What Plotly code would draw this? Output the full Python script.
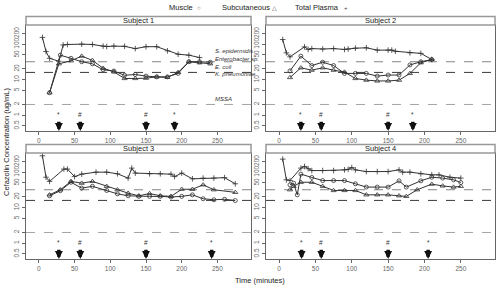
import math
import plotly.graph_objects as go

# ---------------- data ----------------
subjects = ["Subject 1", "Subject 2", "Subject 3", "Subject 4"]

# Subject 1
s1_plasma_t = [5, 10, 15, 28, 34, 40, 60, 75, 90, 95, 105, 120, 135, 150, 165, 180, 195, 210, 225]
s1_plasma_v = [155, 62, 40, 33, 95, 98, 100, 98, 88, 86, 88, 87, 75, 85, 85, 65, 52, 49, 42]
s1_muscle_t = [15, 30, 45, 60, 75, 90, 105, 120, 135, 150, 165, 180, 195, 210, 225, 240]
s1_muscle_v = [4.3, 49, 40, 32, 28, 19, 17.5, 13.3, 14, 12.6, 12, 12, 15, 32, 32, 31]
s1_subq_t = [15, 28, 45, 60, 75, 90, 105, 120, 135, 150, 165, 180, 195, 210, 225, 240]
s1_subq_v = [4.3, 28, 34, 46, 35, 21, 16.6, 10.8, 10.8, 11, 12, 11.6, 16, 32, 30, 28]

# Subject 2
s2_plasma_t = [5, 10, 15, 35, 40, 45, 60, 75, 90, 95, 105, 120, 135, 150, 155, 160, 180, 195, 210]
s2_plasma_v = [135, 57, 44, 84, 71, 75, 73, 75, 71, 73, 77, 79, 68, 68, 68, 63, 57, 55, 37]
s2_muscle_t = [15, 30, 45, 60, 75, 90, 105, 120, 135, 150, 165, 180, 195, 210]
s2_muscle_v = [17.7, 46, 25, 31, 25, 15, 15, 15, 12.6, 13.5, 13.5, 26, 32, 37]
s2_subq_t = [15, 30, 45, 60, 75, 90, 105, 120, 135, 150, 165, 180, 195, 210]
s2_subq_v = [11.5, 21.6, 18.5, 21.6, 18.5, 16.4, 10.8, 9.7, 9.2, 9.2, 9.7, 15, 30, 37]

# Subject 3
s3_plasma_t = [5, 10, 15, 35, 40, 50, 60, 80, 95, 110, 125, 130, 135, 155, 170, 185, 190, 200, 215, 230, 245, 260, 275]
s3_plasma_v = [289, 72, 55, 122, 122, 75, 88, 100, 100, 90, 68, 130, 94, 90, 90, 88, 75, 94, 65, 68, 68, 70, 47]
s3_muscle_t = [15, 30, 45, 60, 75, 95, 110, 125, 140, 155, 170, 185, 200, 215, 230, 245, 260, 275]
s3_muscle_v = [21.6, 30, 52, 35.5, 40, 30.5, 24.5, 21.6, 20.8, 20.8, 20.8, 20, 20.8, 23, 17.8, 16.7, 17.2, 15.9]
s3_subq_t = [15, 30, 45, 60, 75, 95, 110, 125, 140, 155, 170, 185, 200, 215, 230, 245, 275]
s3_subq_v = [23, 32, 55, 49, 55, 40, 32, 25.6, 21.6, 25, 21.6, 20.8, 33, 33, 44, 32, 27]

# Subject 4
s4_plasma_t = [5, 10, 15, 30, 35, 40, 45, 60, 75, 90, 95, 100, 105, 120, 135, 150, 165, 170, 180, 195, 210, 220, 235, 250]
s4_plasma_v = [233, 61, 58, 130, 145, 125, 111, 111, 111, 116, 120, 135, 116, 104, 104, 104, 116, 100, 100, 90, 84, 84, 72, 68]
s4_muscle_t = [15, 20, 25, 30, 45, 60, 75, 90, 105, 120, 135, 150, 165, 175, 195, 210, 225, 240, 250]
s4_muscle_v = [44, 49, 23, 88, 71, 58, 58, 58, 47, 38, 38, 38, 57, 38, 57, 72, 68, 61, 51]
s4_subq_t = [15, 20, 30, 45, 60, 75, 90, 105, 120, 135, 150, 165, 175, 190, 210, 225, 240, 250]
s4_subq_v = [32, 40, 52, 52, 40, 30.5, 30.5, 30.5, 23, 23, 23, 21.6, 20.8, 32, 46, 41, 38, 40]

# dosing arrows (minutes) and their marks
dose_t = [[28, 58, 150, 190], [30, 58, 150, 184], [28, 58, 150, 242], [31, 58, 150, 205]]
dose_mark = [["*", "#", "#", "*"], ["*", "#", "#", "*"], ["*", "#", "#", "*"], ["*", "#", "#", "*"]]

# breakpoints (ug/mL)
bp_values = [32, 16, 2]
bp_labels = ["S. epidermidis", "Enterobacter sp.", "E. coli", "K. pneumoniae", "MSSA"]
bp_label_y = [63, 38, 22.5, 14.3, 2.8]

y_ticks = [0.5, 1, 2, 5, 10, 20, 50, 100, 200]
x_ticks = [0, 50, 100, 150, 200, 250]
X_RANGE = [-18, 297]

series = [
    (s1_muscle_t, s1_muscle_v, s1_subq_t, s1_subq_v, s1_plasma_t, s1_plasma_v),
    (s2_muscle_t, s2_muscle_v, s2_subq_t, s2_subq_v, s2_plasma_t, s2_plasma_v),
    (s3_muscle_t, s3_muscle_v, s3_subq_t, s3_subq_v, s3_plasma_t, s3_plasma_v),
    (s4_muscle_t, s4_muscle_v, s4_subq_t, s4_subq_v, s4_plasma_t, s4_plasma_v),
]

# ---------------- layout geometry (paper fractions) ----------------
W, H = 500, 289
xdom = [[26 / W, 251 / W], [266 / W, 495 / W], [26 / W, 251 / W], [266 / W, 495 / W]]
ydom_px = [[25, 131], [25, 131], [153, 259], [153, 259]]
strip_px = [[16.5, 25], [16.5, 25], [144.5, 153], [144.5, 153]]

def py(p):
    return 1 - p / H

LINE = "#333333"
GRAY = "#666666"
DARK = "#222222"
FONT = "Liberation Sans, Arial, sans-serif"

fig = go.Figure()
layout = dict(
    width=W, height=H, margin=dict(l=0, r=0, t=0, b=0, pad=0, autoexpand=False),
    paper_bgcolor="white", plot_bgcolor="white", showlegend=False,
    font=dict(family=FONT, size=7, color=GRAY),
)
annotations = []
shapes = []

for i in range(4):
    xa = "x" if i == 0 else f"x{i+1}"
    ya = "y" if i == 0 else f"y{i+1}"
    xkey = "xaxis" if i == 0 else f"xaxis{i+1}"
    ykey = "yaxis" if i == 0 else f"yaxis{i+1}"
    layout[xkey] = dict(
        domain=xdom[i], anchor=ya, range=X_RANGE, tickvals=x_ticks, automargin=False,
        showline=True, mirror=True, linecolor="#666666", linewidth=1,
        ticks="outside", ticklen=3, tickcolor="#666666", showgrid=False, zeroline=False,
        tickfont=dict(size=6.5, color=GRAY),
    )
    layout[ykey] = dict(
        domain=[py(ydom_px[i][1]), py(ydom_px[i][0])], anchor=xa, type="log",
        range=[-0.446, 2.54], tickvals=y_ticks, ticktext=[str(v) for v in y_ticks],
        tickangle=-90, showline=True, mirror=True, linecolor="#666666", linewidth=1,
        automargin=False,
        ticks="outside", ticklen=3, tickcolor="#666666", showgrid=False, zeroline=False,
        tickfont=dict(size=6.5, color=GRAY),
    )

    # breakpoint lines
    bp_colors = ["#777777", "#222222", "#999999"]
    for v, c in zip(bp_values, bp_colors):
        fig.add_trace(go.Scatter(
            x=X_RANGE, y=[v, v], mode="lines", xaxis=xa, yaxis=ya,
            line=dict(color=c, width=0.9, dash="dash"), hoverinfo="skip"))

    mt, mv, st, sv, pt, pv = series[i]
    fig.add_trace(go.Scatter(
        x=mt, y=mv, mode="lines+markers", xaxis=xa, yaxis=ya, name="Muscle",
        line=dict(color=LINE, width=1),
        marker=dict(symbol="circle-open", size=4, color=LINE, line=dict(width=0.8, color=LINE))))
    fig.add_trace(go.Scatter(
        x=st, y=sv, mode="lines+markers", xaxis=xa, yaxis=ya, name="Subcutaneous",
        line=dict(color=LINE, width=1),
        marker=dict(symbol="triangle-up-open", size=4.5, color=LINE, line=dict(width=0.8, color=LINE))))
    fig.add_trace(go.Scatter(
        x=pt, y=pv, mode="lines+markers", xaxis=xa, yaxis=ya, name="Total Plasma",
        line=dict(color=LINE, width=1),
        marker=dict(symbol="cross-thin-open", size=4, color=LINE, line=dict(width=0.8, color=LINE))))

    # dosing arrows
    for t, m in zip(dose_t[i], dose_mark[i]):
        annotations.append(dict(
            x=t, y=math.log10(0.36), ax=t, ay=math.log10(0.72),
            xref=xa, yref=ya, axref=xa, ayref=ya, text="", showarrow=True,
            arrowhead=2, arrowsize=0.45, arrowwidth=3.5, arrowcolor="#111111"))
        annotations.append(dict(
            x=t, y=math.log10(1.05), xref=xa, yref=ya, text=m, showarrow=False,
            font=dict(size=6.5, color="#333333")))

    # strip
    shapes.append(dict(
        type="rect", xref="paper", yref="paper",
        x0=xdom[i][0], x1=xdom[i][1], y0=py(strip_px[i][1]), y1=py(strip_px[i][0]),
        fillcolor="white", line=dict(color="#999999", width=1.5), layer="above"))
    annotations.append(dict(
        x=(xdom[i][0] + xdom[i][1]) / 2, y=py((strip_px[i][0] + strip_px[i][1]) / 2),
        xref="paper", yref="paper", text=subjects[i], showarrow=False,
        xanchor="center", yanchor="middle",
        font=dict(size=7.5, color=DARK)))

# breakpoint labels (panel 1)
for lab, v in zip(bp_labels, bp_label_y):
    annotations.append(dict(
        x=244, y=math.log10(v), xref="x", yref="y", text=f"<i>{lab}</i>",
        showarrow=False, xanchor="left", yanchor="middle", font=dict(size=6, color="#333333")))

# top key
key_items = [("Muscle", "○", 181, 199), ("Subcutaneous", "△", 246, 274), ("Total Plasma", "+", 317, 346)]
for txt, sym, xc, xs in key_items:
    annotations.append(dict(x=xc / W, y=py(8), xref="paper", yref="paper", text=txt,
                            xanchor="center", yanchor="middle",
                            showarrow=False, font=dict(size=7.5, color=DARK)))
    annotations.append(dict(x=xs / W, y=py(8), xref="paper", yref="paper", text=sym,
                            xanchor="center", yanchor="middle",
                            showarrow=False, font=dict(size=6, color="#444444")))

# axis titles
annotations.append(dict(x=6 / W, y=py(142), xref="paper", yref="paper",
                        text="Cefazolin Concentration (ug/mL)", textangle=-90,
                        xanchor="center", yanchor="middle",
                        showarrow=False, font=dict(size=7.5, color=DARK)))
annotations.append(dict(x=259.5 / W, y=py(280), xref="paper", yref="paper",
                        text="Time (minutes)", showarrow=False,
                        xanchor="center", yanchor="middle",
                        font=dict(size=7.5, color=DARK)))

layout["annotations"] = annotations
layout["shapes"] = shapes
fig.update_layout(**layout)
fig.write_html(
    "out.html",
    config={"displayModeBar": False},
    post_script="document.body.style.margin='0';document.body.style.overflow='hidden';",
)
